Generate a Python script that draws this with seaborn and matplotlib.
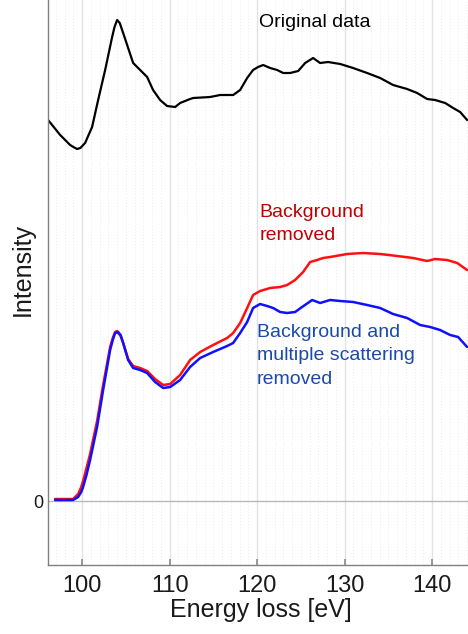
import matplotlib
matplotlib.use("Agg")
import matplotlib.pyplot as plt
import seaborn as sns
import pandas as pd
from matplotlib.ticker import MultipleLocator

# Original spectrum
energy_orig = [96.11, 97.49, 98.63, 99.0, 99.43, 99.8, 100.34, 101.14, 101.83, 102.63,
               103.43, 103.7, 104.0, 104.3, 104.69, 105.26, 105.83, 106.63, 107.43, 108.11,
               108.91, 109.71, 110.63, 111.2, 112.34, 112.69, 114.63, 115.77, 117.26, 118.06,
               118.86, 119.54, 120.11, 120.69, 121.49, 122.29, 122.97, 123.77, 124.69, 125.49,
               126.4, 127.2, 128.11, 129.49, 130.97, 132.57, 134.06, 135.54, 137.14, 138.29,
               139.43, 140.34, 141.49, 142.4, 143.2, 144.0]
intensity_orig = [3.81, 3.66, 3.56, 3.54, 3.52, 3.53, 3.58, 3.74, 4.01, 4.31,
                  4.64, 4.74, 4.81, 4.78, 4.68, 4.53, 4.38, 4.31, 4.24, 4.11,
                  4.01, 3.95, 3.94, 3.98, 4.02, 4.03, 4.04, 4.06, 4.06, 4.11,
                  4.23, 4.31, 4.34, 4.36, 4.33, 4.31, 4.28, 4.28, 4.30, 4.38,
                  4.43, 4.38, 4.39, 4.37, 4.33, 4.28, 4.23, 4.16, 4.12, 4.08,
                  4.02, 4.01, 3.98, 3.93, 3.89, 3.81]

# Background-subtracted spectrum
energy_bg = [96.91, 98.97, 99.54, 99.9, 100.11, 100.5, 100.91, 101.71, 102.4, 103.2,
             103.5, 103.77, 104.0, 104.11, 104.4, 104.69, 105.26, 105.83, 106.63, 107.43,
             108.34, 109.26, 110.06, 111.2, 112.34, 113.49, 114.97, 116.57, 117.26, 118.06,
             118.86, 119.54, 120.34, 121.49, 122.63, 123.43, 124.34, 125.26, 126.06, 126.86,
             127.54, 128.34, 130.29, 132.11, 134.06, 136.0, 137.83, 139.43, 140.34, 141.71,
             142.86, 144.0]
intensity_bg = [0.02, 0.02, 0.07, 0.14, 0.20, 0.33, 0.47, 0.80, 1.16, 1.54,
                1.63, 1.69, 1.70, 1.68, 1.65, 1.58, 1.42, 1.35, 1.33, 1.30,
                1.22, 1.16, 1.17, 1.26, 1.41, 1.49, 1.56, 1.63, 1.68, 1.78,
                1.93, 2.06, 2.10, 2.13, 2.14, 2.16, 2.21, 2.29, 2.39, 2.41,
                2.43, 2.44, 2.47, 2.48, 2.47, 2.45, 2.43, 2.40, 2.42, 2.41,
                2.38, 2.31]

# Background and multiple scattering removed
energy_ms = [96.91, 98.97, 99.54, 99.9, 100.11, 100.5, 100.91, 101.71, 102.4, 103.2,
             103.5, 103.77, 104.11, 104.4, 104.69, 105.26, 105.83, 106.63, 107.43, 108.34,
             109.26, 110.06, 111.2, 112.34, 113.49, 114.97, 116.57, 117.26, 118.06, 118.86,
             119.54, 120.34, 121.14, 121.83, 122.63, 123.43, 124.34, 125.14, 126.29, 127.2,
             128.34, 129.49, 130.97, 132.57, 134.06, 135.54, 137.14, 138.63, 139.77, 140.91,
             142.06, 142.97, 144.0]
intensity_ms = [0.01, 0.01, 0.04, 0.09, 0.14, 0.26, 0.41, 0.74, 1.11, 1.51,
                1.61, 1.68, 1.69, 1.66, 1.58, 1.41, 1.33, 1.31, 1.28, 1.19,
                1.13, 1.14, 1.21, 1.34, 1.43, 1.49, 1.55, 1.58, 1.68, 1.79,
                1.93, 1.97, 1.95, 1.93, 1.89, 1.88, 1.89, 1.94, 2.01, 1.98,
                2.01, 2.00, 1.99, 1.96, 1.93, 1.87, 1.83, 1.76, 1.74, 1.71,
                1.66, 1.64, 1.54]

x_ticks = [100, 110, 120, 130, 140]
y_ticks = [0]

sns.set_theme(style="white")
plt.rcParams["font.family"] = ["Liberation Sans", "DejaVu Sans"]

fig = plt.figure(figsize=(4.68, 6.34), dpi=100)
ax = fig.add_axes([48 / 468, 69 / 634, 420 / 468, 565 / 634])

# grid: solid major lines every 10 eV, dotted minor lines every 1 eV
ax.xaxis.set_major_locator(plt.FixedLocator(x_ticks))
ax.xaxis.set_minor_locator(MultipleLocator(1))
ax.grid(which="major", axis="x", color="#e2e2e2", lw=1.0, ls="-")
ax.grid(which="minor", axis="x", color="#e4e4e4", lw=0.6, ls=(0, (1, 2.5)))
ax.set_axisbelow(True)
ax.axhline(0, color="#b8b8b8", lw=1.0, zorder=1)

df_orig = pd.DataFrame({"E": energy_orig, "I": intensity_orig})
df_bg = pd.DataFrame({"E": energy_bg, "I": intensity_bg})
df_ms = pd.DataFrame({"E": energy_ms, "I": intensity_ms})

line_kw = dict(solid_joinstyle="round", solid_capstyle="round")
sns.lineplot(data=df_orig, x="E", y="I", color="black", lw=1.6, ax=ax, **line_kw)
sns.lineplot(data=df_bg, x="E", y="I", color="#ff1010", lw=1.8, ax=ax, **line_kw)
sns.lineplot(data=df_ms, x="E", y="I", color="#1010ff", lw=1.8, ax=ax, **line_kw)

ax.set_xlim(96.1, 144.1)
ax.set_ylim(-0.64, 5.01)
ax.set_yticks(y_ticks)
ax.set_yticklabels(["0"])

for side in ("top", "right"):
    ax.spines[side].set_visible(False)
for side in ("left", "bottom"):
    ax.spines[side].set_color("#808080")
    ax.spines[side].set_linewidth(1.0)

ax.tick_params(axis="x", which="major", direction="in", length=4, color="#909090",
               labelsize=17, pad=7, labelcolor="#1a1a1a", bottom=True)
ax.tick_params(axis="x", which="minor", length=0)
ax.tick_params(axis="y", direction="in", length=0, labelsize=13, pad=3,
               labelcolor="#1a1a1a", left=True)

ax.set_xlabel("Energy loss [eV]", fontsize=18, color="#1a1a1a")
ax.set_ylabel("Intensity", fontsize=18, color="#1a1a1a")
ax.xaxis.set_label_coords(0.508, -0.058)
ax.yaxis.set_label_coords(-0.031, 0.523)

ax.text(120.23, 4.87, "Original data", fontsize=14, color="black",
        ha="left", va="top")
ax.text(120.23, 2.97, "Background\nremoved", fontsize=14, color="#c00000",
        ha="left", va="top", linespacing=1.5)
ax.text(120.0, 1.77, "Background and\nmultiple scattering\nremoved", fontsize=14,
        color="#1a4aa8", ha="left", va="top", linespacing=1.5)

fig.savefig("out.png", dpi=100)
